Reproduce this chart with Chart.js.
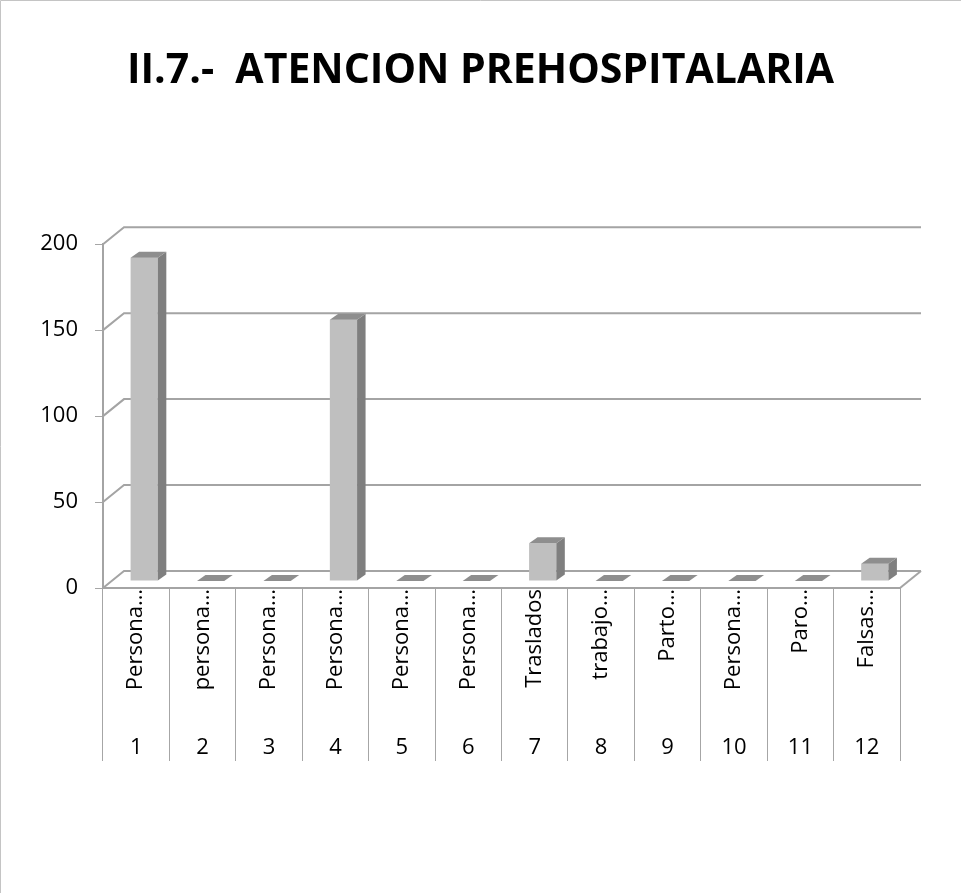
<!DOCTYPE html>
<html>
<head>
<meta charset="utf-8">
<script src="https://cdn.jsdelivr.net/npm/chart.js@4.4.1/dist/chart.umd.min.js"></script>
<style>
  html, body { margin: 0; padding: 0; background: #fff; }
  #wrap { position: relative; width: 961px; height: 893px; }
</style>
</head>
<body>
<div id="wrap"><canvas id="chart"></canvas></div>
<script>
const chartTitle = "II.7.-  ATENCION PREHOSPITALARIA";
const categoryNames = ["Persona…", "persona…", "Persona…", "Persona…", "Persona…", "Persona…", "Traslados", "trabajo…", "Parto…", "Persona…", "Paro…", "Falsas…"];
const categoryNumbers = ["1", "2", "3", "4", "5", "6", "7", "8", "9", "10", "11", "12"];
const values = [188, 0, 0, 152, 0, 0, 22, 0, 0, 0, 0, 10];
const yTicks = [0, 50, 100, 150, 200];

// fake 3d: wall depth, bar offset inside the depth, bar thickness
const DEPTH = { x: 21, y: -17 };
const BAR_SHIFT = { x: 8, y: -7 };
const BAR_DEPTH = { x: 8.5, y: -6 };
const LINE_GREY = "#a6a6a6";

const frame3d = {
  id: "frame3d",
  beforeDraw(chart) {
    const ctx = chart.ctx;
    ctx.save();
    ctx.strokeStyle = "#c4c4c4";
    ctx.lineWidth = 1;
    ctx.beginPath();
    ctx.moveTo(0.5, chart.height);
    ctx.lineTo(0.5, 0.5);
    ctx.lineTo(chart.width, 0.5);
    ctx.stroke();
    ctx.restore();
  },
  beforeDatasetsDraw(chart) {
    const { ctx, chartArea, scales } = chart;
    ctx.save();
    ctx.strokeStyle = "#a4a4a4";
    ctx.lineWidth = 2;
    yTicks.forEach((v) => {
      const py = scales.y.getPixelForValue(v);
      ctx.beginPath();
      ctx.moveTo(chartArea.left, py);
      ctx.lineTo(chartArea.left + DEPTH.x, py + DEPTH.y);
      ctx.lineTo(chartArea.right + DEPTH.x, py + DEPTH.y);
      ctx.stroke();
    });
    ctx.beginPath();
    ctx.moveTo(chartArea.right, chartArea.bottom);
    ctx.lineTo(chartArea.right + DEPTH.x, chartArea.bottom + DEPTH.y);
    ctx.stroke();
    ctx.restore();

    // bars sit in the middle of the floor depth
    ctx.save();
    ctx.translate(BAR_SHIFT.x, BAR_SHIFT.y);
  },
  afterDatasetsDraw(chart) {
    const ctx = chart.ctx;
    chart.getDatasetMeta(0).data.forEach((bar) => {
      const { x, y, base, width } = bar.getProps(["x", "y", "base", "width"], true);
      const l = x - width / 2;
      const r = x + width / 2;
      // side face
      ctx.fillStyle = "#7f7f7f";
      ctx.beginPath();
      ctx.moveTo(r, y);
      ctx.lineTo(r + BAR_DEPTH.x, y + BAR_DEPTH.y);
      ctx.lineTo(r + BAR_DEPTH.x, base + BAR_DEPTH.y);
      ctx.lineTo(r, base);
      ctx.closePath();
      ctx.fill();
      // top face
      ctx.fillStyle = "#8e8e8e";
      ctx.beginPath();
      ctx.moveTo(l, y);
      ctx.lineTo(l + BAR_DEPTH.x, y + BAR_DEPTH.y);
      ctx.lineTo(r + BAR_DEPTH.x, y + BAR_DEPTH.y);
      ctx.lineTo(r, y);
      ctx.closePath();
      ctx.fill();
    });
    ctx.restore();
  },
};

const tickFont = { family: "'Open Sans', sans-serif", size: 22 };

new Chart(document.getElementById("chart"), {
  type: "bar",
  data: {
    labels: categoryNames,
    datasets: [
      {
        data: values,
        backgroundColor: "#bfbfbf",
        borderWidth: 0,
        categoryPercentage: 1,
        barPercentage: 0.41,
        clip: false,
      },
    ],
  },
  options: {
    responsive: true,
    maintainAspectRatio: false,
    animation: false,
    layout: { padding: { left: 0, right: 0, top: 0, bottom: 135 } },
    plugins: {
      legend: { display: false },
      tooltip: { enabled: false },
      title: {
        display: true,
        text: chartTitle,
        color: "#000",
        font: { family: "'Open Sans', sans-serif", size: 41, weight: "bold" },
        padding: { top: 47, bottom: 148 },
      },
    },
    scales: {
      x: {
        type: "category",
        position: "bottom",
        offset: true,
        weight: 0,
        grid: { offset: true, drawOnChartArea: false, drawTicks: true, tickLength: 173, color: LINE_GREY },
        border: { display: true, color: "#a4a4a4", width: 2 },
        ticks: { minRotation: 90, maxRotation: 90, autoSkip: false, padding: -172, font: tickFont, color: "#000" },
        afterFit(scale) { scale.height = 110; },
      },
      x2: {
        type: "category",
        position: "bottom",
        labels: categoryNumbers,
        offset: true,
        weight: 1,
        grid: { display: false },
        border: { display: false },
        ticks: { autoSkip: false, maxRotation: 0, padding: 29, font: tickFont, color: "#000" },
        afterFit(scale) { scale.height = 60; },
      },
      y: {
        min: 0,
        max: 200,
        ticks: { stepSize: 50, padding: 17, font: tickFont, color: "#000" },
        grid: { drawOnChartArea: false, tickLength: 8, color: LINE_GREY },
        border: { color: "#a4a4a4", width: 2 },
        afterFit(scale) { scale.width = 103; },
      },
      yRight: {
        position: "right",
        grid: { display: false },
        border: { display: false },
        ticks: { display: false },
        afterFit(scale) { scale.width = 61; },
      },
    },
  },
  plugins: [frame3d],
});
</script>
</body>
</html>
